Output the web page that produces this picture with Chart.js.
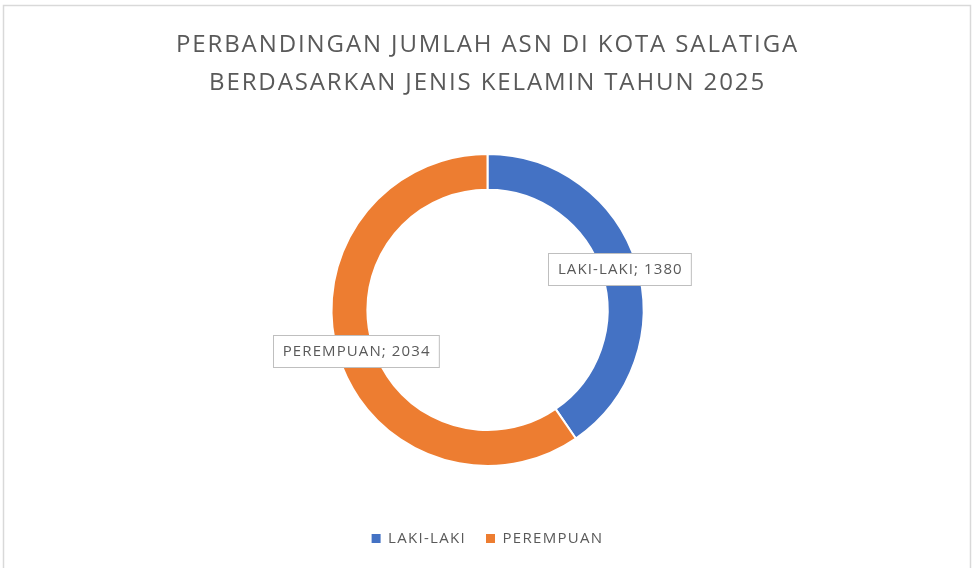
<!DOCTYPE html>
<html>
<head>
<meta charset="utf-8">
<script src="https://cdn.jsdelivr.net/npm/chart.js@4/dist/chart.umd.min.js"></script>
<style>
  html, body { margin: 0; padding: 0; background: #fff; }
  #wrap { position: relative; width: 972px; height: 568px; }
</style>
</head>
<body>
<div id="wrap"><canvas id="chart"></canvas></div>
<script>
var categories = ['LAKI-LAKI', 'PEREMPUAN'];
var jumlahASN = [1380, 2034];
var colors = ['#4472C4', '#ED7D31'];
var titleLines = ['PERBANDINGAN JUMLAH ASN DI KOTA SALATIGA', 'BERDASARKAN JENIS KELAMIN TAHUN 2025'];

var fontFamily = '"Open Sans", "Noto Sans", sans-serif';
var textColor = '#595959';
var legendSpacing = '1.3px';
var titleSpacing = '1.9px';

// frame round the chart + wider letter spacing (the original font is wider)
const framePlugin = {
    id: 'frame',
    beforeLayout(chart) {
        chart.ctx.letterSpacing = legendSpacing;   // used by legend measuring
    },
    beforeDraw(chart) {
        const ctx = chart.ctx;
        const legend = chart.legend;
        if (legend && !legend._spaced) {
            const orig = legend.draw.bind(legend);
            legend.draw = function () {
                const old = this.ctx.letterSpacing;
                this.ctx.letterSpacing = legendSpacing;
                orig();
                this.ctx.letterSpacing = old;
            };
            legend._spaced = true;
        }
        ctx.save();
        ctx.fillStyle = '#ffffff';
        ctx.fillRect(0, 0, chart.width, chart.height);
        ctx.strokeStyle = '#d9d9d9';
        ctx.lineWidth = 1.5;
        ctx.beginPath();
        ctx.moveTo(3.5, chart.height + 2);
        ctx.lineTo(3.5, 5.5);
        ctx.lineTo(chart.width - 1.5, 5.5);
        ctx.lineTo(chart.width - 1.5, chart.height + 2);
        ctx.stroke();
        ctx.restore();
        ctx.letterSpacing = titleSpacing;
    }
};

// data labels in a small box at the middle of each slice
const boxLabels = {
    id: 'boxLabels',
    afterDatasetsDraw(chart) {
        const ctx = chart.ctx;
        const meta = chart.getDatasetMeta(0);
        ctx.save();
        ctx.letterSpacing = '1.1px';
        ctx.font = '15px ' + fontFamily;
        ctx.textAlign = 'center';
        ctx.textBaseline = 'middle';
        meta.data.forEach((arc, i) => {
            const pos = arc.tooltipPosition();
            const text = chart.data.labels[i] + '; ' + chart.data.datasets[0].data[i];
            const w = ctx.measureText(text).width + 18;
            const h = 32;
            const x = Math.round(pos.x - w / 2) + 0.5;
            const y = Math.round(pos.y - h / 2) + 0.5;
            ctx.fillStyle = '#ffffff';
            ctx.fillRect(x, y, w, h);
            ctx.strokeStyle = '#bfbfbf';
            ctx.lineWidth = 1;
            ctx.strokeRect(x, y, w, h);
            ctx.fillStyle = textColor;
            ctx.fillText(text, pos.x + 1, pos.y + 1);
        });
        ctx.restore();
    }
};

const canvas = document.getElementById('chart');
new Chart(canvas, {
    type: 'doughnut',
    data: {
        labels: categories,
        datasets: [{
            data: jumlahASN,
            backgroundColor: colors,
            borderColor: '#ffffff',
            borderWidth: 2,
            radius: 156,
            cutout: '77%'
        }]
    },
    options: {
        responsive: true,
        maintainAspectRatio: false,
        animation: false,
        layout: { padding: { left: 3, right: 0, top: 26, bottom: 12 } },
        plugins: {
            tooltip: { enabled: false },
            title: {
                display: true,
                text: titleLines,
                color: textColor,
                font: { family: fontFamily, size: 24, weight: 'normal', lineHeight: 1.58 },
                padding: { top: 0, bottom: 7 }
            },
            legend: {
                position: 'bottom',
                labels: {
                    color: textColor,
                    font: { family: fontFamily, size: 15 },
                    boxWidth: 9,
                    boxHeight: 9,
                    padding: 20,
                    generateLabels(chart) {
                        const items = Chart.overrides.doughnut.plugins.legend.labels.generateLabels(chart);
                        items.forEach(it => { it.lineWidth = 0; it.strokeStyle = it.fillStyle; });
                        return items;
                    }
                }
            }
        }
    },
    plugins: [framePlugin, boxLabels]
});
</script>
</body>
</html>
